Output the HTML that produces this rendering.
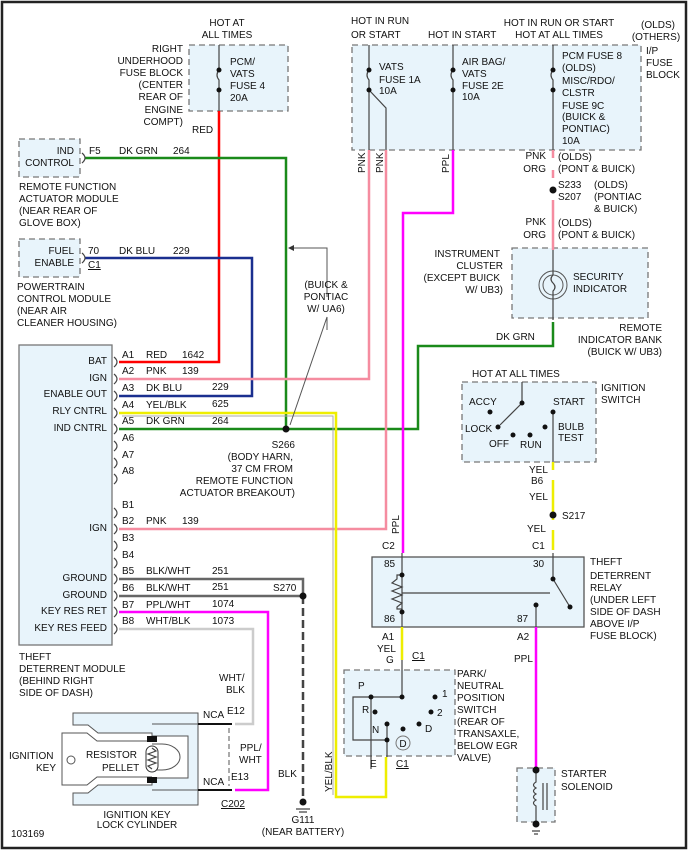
<!DOCTYPE html>
<html><head><meta charset="utf-8"><style>
html,body{margin:0;padding:0;background:#fff}
svg{display:block}
text{font-family:"Liberation Sans",sans-serif;font-size:10px;fill:#111}
.r{text-anchor:end}.m{text-anchor:middle}
.box{fill:#e8f4fb;stroke:#777;stroke-width:1.3;stroke-dasharray:6,4}
.w{fill:none;stroke-width:2.5}
.k{fill:none;stroke:#444;stroke-width:1.2}
</style></head><body>
<svg width="698" height="852" viewBox="0 0 698 852" xmlns="http://www.w3.org/2000/svg">
<rect x="2" y="2" width="684" height="846" fill="#fff" stroke="#222" stroke-width="2.5"/>

<!-- boxes -->
<rect class="box" x="189" y="45" width="99" height="66"/>
<rect class="box" x="352" y="45" width="289" height="105"/>
<rect class="box" x="19" y="139" width="61" height="38"/>
<rect class="box" x="19" y="239" width="61" height="38"/>
<rect class="box" x="512" y="248" width="136" height="70"/>
<rect class="box" x="462" y="382" width="134" height="80"/>
<rect class="box" x="344" y="670" width="111" height="86"/>
<rect class="box" x="517" y="768" width="38" height="54"/>
<rect x="19" y="345" width="93" height="300" fill="#e8f4fb" stroke="#777" stroke-width="1.3"/>
<rect x="372" y="557" width="212" height="70" fill="#e8f4fb" stroke="#555" stroke-width="1.3"/>

<!-- fuses -->
<g class="k">
<path d="M219 45V70q-4 5 0 10V111"/>
<path d="M369 45V70q-4 5 0 10V150M369 90L386 108V150"/>
<path d="M453 45V70q-4 5 0 10V150"/>
<path d="M553 45V70q-4 5 0 10V150"/>
</g>
<g fill="#111"><circle cx="219" cy="70" r="2.5"/><circle cx="219" cy="90" r="2.5"/>
<circle cx="369" cy="70" r="2.5"/><circle cx="369" cy="90" r="2.5"/>
<circle cx="453" cy="70" r="2.5"/><circle cx="453" cy="90" r="2.5"/>
<circle cx="553" cy="70" r="2.5"/><circle cx="553" cy="90" r="2.5"/></g>

<!-- wires -->
<path class="w" stroke="#f00" d="M219 111V362H119"/>
<path class="w" stroke="#1a8a1a" d="M85 158H286V429H119M286 429H418V346H553V322"/>
<path class="w" stroke="#1a2f8f" d="M85 258H252V396H119"/>
<path class="w" stroke="#f58ca0" d="M369 150V379H119M386 150V529H119"/>
<path class="w" stroke="#f0f" d="M453 150V213H403V553"/>
<path class="w" stroke="#f58ca0" d="M553 150V158M553 170V178M553 200V250"/>
<path class="w" stroke="#ee0" d="M553 462V470M553 480V520M553 530V550M402 627V660"/>
<path class="w" stroke="#ee0" d="M119 413H336V797H386V757"/>
<path fill="none" stroke="#aaa" stroke-width="1" d="M122 416H333V795"/>
<path class="w" stroke="#f0f" d="M536 627V768M119 612H268V790H235"/>
<path class="w" stroke="#666" stroke-width="2" d="M119 579H303V596M119 596H303"/>
<path fill="none" stroke="#ccc" stroke-width="2.5" d="M119 629H253V724H235"/>
<path fill="none" stroke="#444" stroke-width="2.5" stroke-dasharray="8,4" d="M303 596V800"/>
<path fill="none" stroke="#555" stroke-width="1" d="M327 330V317L290 425M327 297V248H292"/>
<path d="M288 248l6-3v6z" fill="#333"/>
<g fill="#111"><circle cx="286" cy="429" r="3.5"/><circle cx="303" cy="596" r="3.5"/><circle cx="553" cy="190" r="3.5"/><circle cx="553" cy="515" r="3.5"/></g>

<!-- connectors module -->
<g class="k" stroke="#555">
<path d="M114 357q6 5 0 10M114 374q6 5 0 10M114 391q6 5 0 10M114 408q6 5 0 10M114 424q6 5 0 10M114 441q6 5 0 10M114 458q6 5 0 10M114 474q6 5 0 10M114 508q6 5 0 10M114 524q6 5 0 10M114 541q6 5 0 10M114 558q6 5 0 10M114 574q6 5 0 10M114 591q6 5 0 10M114 607q6 5 0 10M114 624q6 5 0 10"/>
<path d="M82 153q6 5 0 10M82 253q6 5 0 10"/>
</g>

<!-- instrument cluster lamp -->
<circle cx="553" cy="285" r="14" fill="none" stroke="#555"/>
<circle cx="553" cy="285" r="10" fill="none" stroke="#555"/>
<path class="k" d="M553 250V275q-4 4 0 8q4 4 0 8V320"/>

<!-- ignition switch -->
<path class="k" d="M522 382V403L500 425M553 412V462"/>
<g fill="#111"><circle cx="522" cy="403" r="2.5"/><circle cx="490" cy="412" r="2.5"/><circle cx="498" cy="427" r="2.5"/><circle cx="513" cy="435" r="2.5"/><circle cx="530" cy="435" r="2.5"/><circle cx="545" cy="427" r="2.5"/><circle cx="553" cy="412" r="2.5"/></g>

<!-- relay -->
<path class="k" d="M402 553V575V612V627M402 575H397v4l-5 4 10 4-10 4 10 4-10 4 10 4-5 4v2H402M402 593H550M553 553V579L570 607M536 605V627"/>
<g fill="#111"><circle cx="402" cy="575" r="2.5"/><circle cx="402" cy="612" r="2.5"/><circle cx="553" cy="579" r="2.5"/><circle cx="570" cy="607" r="2.5"/><circle cx="536" cy="605" r="2.5"/></g>

<!-- park neutral -->
<path class="k" d="M402 660V697H371V769M371 697H353V740H387V757M387 724V740"/>
<g fill="#111"><circle cx="402" cy="697" r="2.5"/><circle cx="371" cy="697" r="2.5"/><circle cx="435" cy="697" r="2.5"/><circle cx="375" cy="712" r="2.5"/><circle cx="431" cy="712" r="2.5"/><circle cx="387" cy="724" r="2.5"/><circle cx="403" cy="729" r="2.5"/><circle cx="419" cy="724" r="2.5"/><circle cx="387" cy="740" r="2.5"/></g>
<circle cx="403" cy="743" r="7" fill="none" stroke="#777"/>

<!-- solenoid -->
<path class="k" d="M536 768V782q-5 3 0 6q-5 3 0 6q-5 3 0 6q-5 3 0 6V824M543 783V810M547 783V810M532 831h8M534 834h4"/>
<g fill="#111"><circle cx="536" cy="770" r="3.5"/><circle cx="536" cy="824" r="3.5"/><circle cx="303" cy="802" r="3.5"/></g>
<path class="k" d="M296 809h14M299 812h8"/>

<!-- key cylinder -->
<path d="M73 713H198V805H73V793H88L98 785H152V733H98L88 725H73Z" fill="#e8f4fb" stroke="#555"/>
<path d="M62 733H87L97 741H155V777H97L87 785H62Z" fill="#fff" stroke="#555"/>
<path d="M152 724H198V790H152" fill="none" stroke="#555"/>
<path d="M152 736H188V778H152" fill="#fff" stroke="#555"/>
<path d="M152 744H162a18 13 0 0 1 0 26H152" fill="none" stroke="#555"/>
<rect x="147" y="736" width="10" height="6" fill="#111"/><rect x="147" y="777" width="10" height="6" fill="#111"/>
<rect x="146" y="746" width="12" height="26" rx="6" fill="#fff" stroke="#333"/>
<path class="k" d="M152 748l4 3-8 3 8 3-8 3 8 3-8 3 4 3"/>
<circle cx="71" cy="760" r="4" fill="#fff" stroke="#555"/>
<path stroke="#111" stroke-width="2" d="M198 724H232M198 790H232"/>
<path fill="none" stroke="#555" stroke-dasharray="5,3" d="M229 728V786"/>

<!-- texts -->
<text class="m" x="227" y="26">HOT AT</text><text class="m" x="227" y="38">ALL TIMES</text>
<text class="r" x="183" y="52">RIGHT</text><text class="r" x="183" y="64">UNDERHOOD</text><text class="r" x="183" y="76">FUSE BLOCK</text><text class="r" x="183" y="88">(CENTER</text><text class="r" x="183" y="100">REAR OF</text><text class="r" x="183" y="113">ENGINE</text><text class="r" x="183" y="125">COMPT)</text>
<text x="230" y="65">PCM/</text><text x="230" y="77">VATS</text><text x="230" y="89">FUSE 4</text><text x="230" y="101">20A</text>
<text x="192" y="133">RED</text>
<text class="r" x="74" y="154">IND</text><text class="r" x="74" y="166">CONTROL</text>
<text x="89" y="154">F5</text><text x="119" y="154">DK GRN</text><text x="173" y="154">264</text>
<text x="19" y="190">REMOTE FUNCTION</text><text x="19" y="202">ACTUATOR MODULE</text><text x="19" y="214">(NEAR REAR OF</text><text x="19" y="226">GLOVE BOX)</text>
<text class="r" x="74" y="254">FUEL</text><text class="r" x="74" y="266">ENABLE</text>
<text x="88" y="254">70</text><text x="88" y="268" text-decoration="underline">C1</text><text x="119" y="254">DK BLU</text><text x="173" y="254">229</text>
<text x="17" y="290">POWERTRAIN</text><text x="17" y="302">CONTROL MODULE</text><text x="17" y="314">(NEAR AIR</text><text x="17" y="326">CLEANER HOUSING)</text>
<text class="m" x="326" y="288">(BUICK &amp;</text><text class="m" x="326" y="300">PONTIAC</text><text class="m" x="326" y="312">W/ UA6)</text>
<text x="351" y="24">HOT IN RUN</text><text x="351" y="38">OR START</text><text x="428" y="38">HOT IN START</text>
<text class="m" x="559" y="26">HOT IN RUN OR START</text><text class="m" x="559" y="38">HOT AT ALL TIMES</text>
<text class="m" x="658" y="28">(OLDS)</text><text class="m" x="656" y="40">(OTHERS)</text>
<text x="646" y="54">I/P</text><text x="646" y="66">FUSE</text><text x="646" y="78">BLOCK</text>
<text x="379" y="70">VATS</text><text x="379" y="83">FUSE 1A</text><text x="379" y="94">10A</text>
<text x="462" y="65">AIR BAG/</text><text x="462" y="77">VATS</text><text x="462" y="89">FUSE 2E</text><text x="462" y="100">10A</text>
<text x="562" y="59">PCM FUSE 8</text><text x="562" y="71">(OLDS)</text><text x="562" y="84">MISC/RDO/</text><text x="562" y="96">CLSTR</text><text x="562" y="109">FUSE 9C</text><text x="562" y="120">(BUICK &amp;</text><text x="562" y="132">PONTIAC)</text><text x="562" y="144">10A</text>
<text transform="translate(365,173) rotate(-90)">PNK</text><text transform="translate(383,173) rotate(-90)">PNK</text><text transform="translate(449,173) rotate(-90)">PPL</text>
<text class="r" x="546" y="159">PNK</text><text class="r" x="546" y="172">ORG</text><text x="558" y="160">(OLDS)</text><text x="558" y="172">(PONT &amp; BUICK)</text>
<text x="558" y="188">S233</text><text x="558" y="200">S207</text><text x="594" y="188">(OLDS)</text><text x="594" y="200">(PONTIAC</text><text x="594" y="212">&amp; BUICK)</text>
<text class="r" x="546" y="225">PNK</text><text class="r" x="546" y="238">ORG</text><text x="558" y="226">(OLDS)</text><text x="558" y="238">(PONT &amp; BUICK)</text>
<text class="r" x="500" y="257">INSTRUMENT</text><text class="r" x="503" y="269">CLUSTER</text><text class="r" x="500" y="281">(EXCEPT BUICK</text><text class="r" x="503" y="293">W/ UB3)</text>
<text x="573" y="280">SECURITY</text><text x="573" y="292">INDICATOR</text>
<text class="r" x="662" y="331">REMOTE</text><text class="r" x="662" y="343">INDICATOR BANK</text><text class="r" x="662" y="355">(BUICK W/ UB3)</text>
<text x="496" y="340">DK GRN</text>
<text x="472" y="377">HOT AT ALL TIMES</text>
<text x="601" y="391">IGNITION</text><text x="601" y="403">SWITCH</text>
<text x="469" y="405">ACCY</text><text x="553" y="405">START</text><text x="465" y="432">LOCK</text><text x="489" y="447">OFF</text><text x="520" y="448">RUN</text><text x="558" y="430">BULB</text><text x="558" y="441">TEST</text>
<text x="529" y="473">YEL</text><text x="531" y="484">B6</text><text x="529" y="500">YEL</text><text x="562" y="519">S217</text><text x="527" y="532">YEL</text>
<text x="382" y="549">C2</text><text x="532" y="549">C1</text><text transform="translate(399,534) rotate(-90)">PPL</text>
<text x="384" y="567">85</text><text x="533" y="567">30</text><text x="384" y="622">86</text><text x="517" y="622">87</text>
<text x="590" y="565">THEFT</text><text x="590" y="579">DETERRENT</text><text x="590" y="591">RELAY</text><text x="590" y="603">(UNDER LEFT</text><text x="590" y="615">SIDE OF DASH</text><text x="590" y="627">ABOVE I/P</text><text x="590" y="639">FUSE BLOCK)</text>
<text x="382" y="640">A1</text><text x="517" y="640">A2</text><text x="377" y="652">YEL</text><text x="386" y="663">G</text><text x="412" y="659" text-decoration="underline">C1</text><text x="514" y="662">PPL</text>
<text x="457" y="677">PARK/</text><text x="457" y="689">NEUTRAL</text><text x="457" y="701">POSITION</text><text x="457" y="713">SWITCH</text><text x="457" y="725">(REAR OF</text><text x="457" y="737">TRANSAXLE,</text><text x="457" y="749">BELOW EGR</text><text x="457" y="761">VALVE)</text>
<text x="358" y="689">P</text><text x="442" y="697">1</text><text x="362" y="713">R</text><text x="437" y="716">2</text><text x="372" y="733">N</text><text x="425" y="732">D</text><text class="m" x="403" y="747">D</text>
<text x="370" y="767">E</text><text x="396" y="767" text-decoration="underline">C1</text>
<text x="561" y="777">STARTER</text><text x="561" y="790">SOLENOID</text>
<text class="r" x="107" y="364">BAT</text><text class="r" x="107" y="381">IGN</text><text class="r" x="107" y="397">ENABLE OUT</text><text class="r" x="107" y="414">RLY CNTRL</text><text class="r" x="107" y="431">IND CNTRL</text><text class="r" x="107" y="531">IGN</text><text class="r" x="107" y="581">GROUND</text><text class="r" x="107" y="598">GROUND</text><text class="r" x="107" y="614">KEY RES RET</text><text class="r" x="107" y="631">KEY RES FEED</text>
<g><text x="122" y="358">A1</text><text x="122" y="374">A2</text><text x="122" y="391">A3</text><text x="122" y="408">A4</text><text x="122" y="424">A5</text><text x="122" y="441">A6</text><text x="122" y="458">A7</text><text x="122" y="474">A8</text><text x="122" y="508">B1</text><text x="122" y="524">B2</text><text x="122" y="541">B3</text><text x="122" y="558">B4</text><text x="122" y="574">B5</text><text x="122" y="591">B6</text><text x="122" y="608">B7</text><text x="122" y="624">B8</text></g>
<text x="146" y="358">RED</text><text x="182" y="358">1642</text><text x="146" y="374">PNK</text><text x="182" y="374">139</text><text x="146" y="391">DK BLU</text><text x="212" y="390">229</text><text x="146" y="408">YEL/BLK</text><text x="212" y="407">625</text><text x="146" y="424">DK GRN</text><text x="212" y="424">264</text>
<text x="146" y="524">PNK</text><text x="182" y="524">139</text><text x="146" y="574">BLK/WHT</text><text x="212" y="574">251</text><text x="146" y="591">BLK/WHT</text><text x="212" y="590">251</text><text x="146" y="608">PPL/WHT</text><text x="212" y="607">1074</text><text x="146" y="624">WHT/BLK</text><text x="212" y="624">1073</text>
<text x="273" y="591">S270</text>
<text class="r" x="295" y="448">S266</text><text class="r" x="293" y="460">(BODY HARN,</text><text class="r" x="293" y="472">37 CM FROM</text><text class="r" x="293" y="484">REMOTE FUNCTION</text><text class="r" x="295" y="496">ACTUATOR BREAKOUT)</text>
<text x="19" y="660">THEFT</text><text x="19" y="672">DETERRENT MODULE</text><text x="19" y="684">(BEHIND RIGHT</text><text x="19" y="696">SIDE OF DASH)</text>
<text x="219" y="681">WHT/</text><text x="226" y="693">BLK</text><text x="203" y="718">NCA</text><text x="227" y="714">E12</text><text x="240" y="751">PPL/</text><text x="239" y="763">WHT</text><text x="203" y="785">NCA</text><text x="231" y="780">E13</text><text x="221" y="807" text-decoration="underline">C202</text>
<text x="278" y="777">BLK</text><text transform="translate(332,792) rotate(-90)">YEL/BLK</text>
<text class="m" x="303" y="823">G111</text><text class="m" x="303" y="835">(NEAR BATTERY)</text>
<text x="9" y="759">IGNITION</text><text x="36" y="771">KEY</text><text x="86" y="758">RESISTOR</text><text x="102" y="771">PELLET</text>
<text class="m" x="137" y="818">IGNITION KEY</text><text class="m" x="137" y="828">LOCK CYLINDER</text>
<text x="11" y="837">103169</text>
</svg>
</body></html>
